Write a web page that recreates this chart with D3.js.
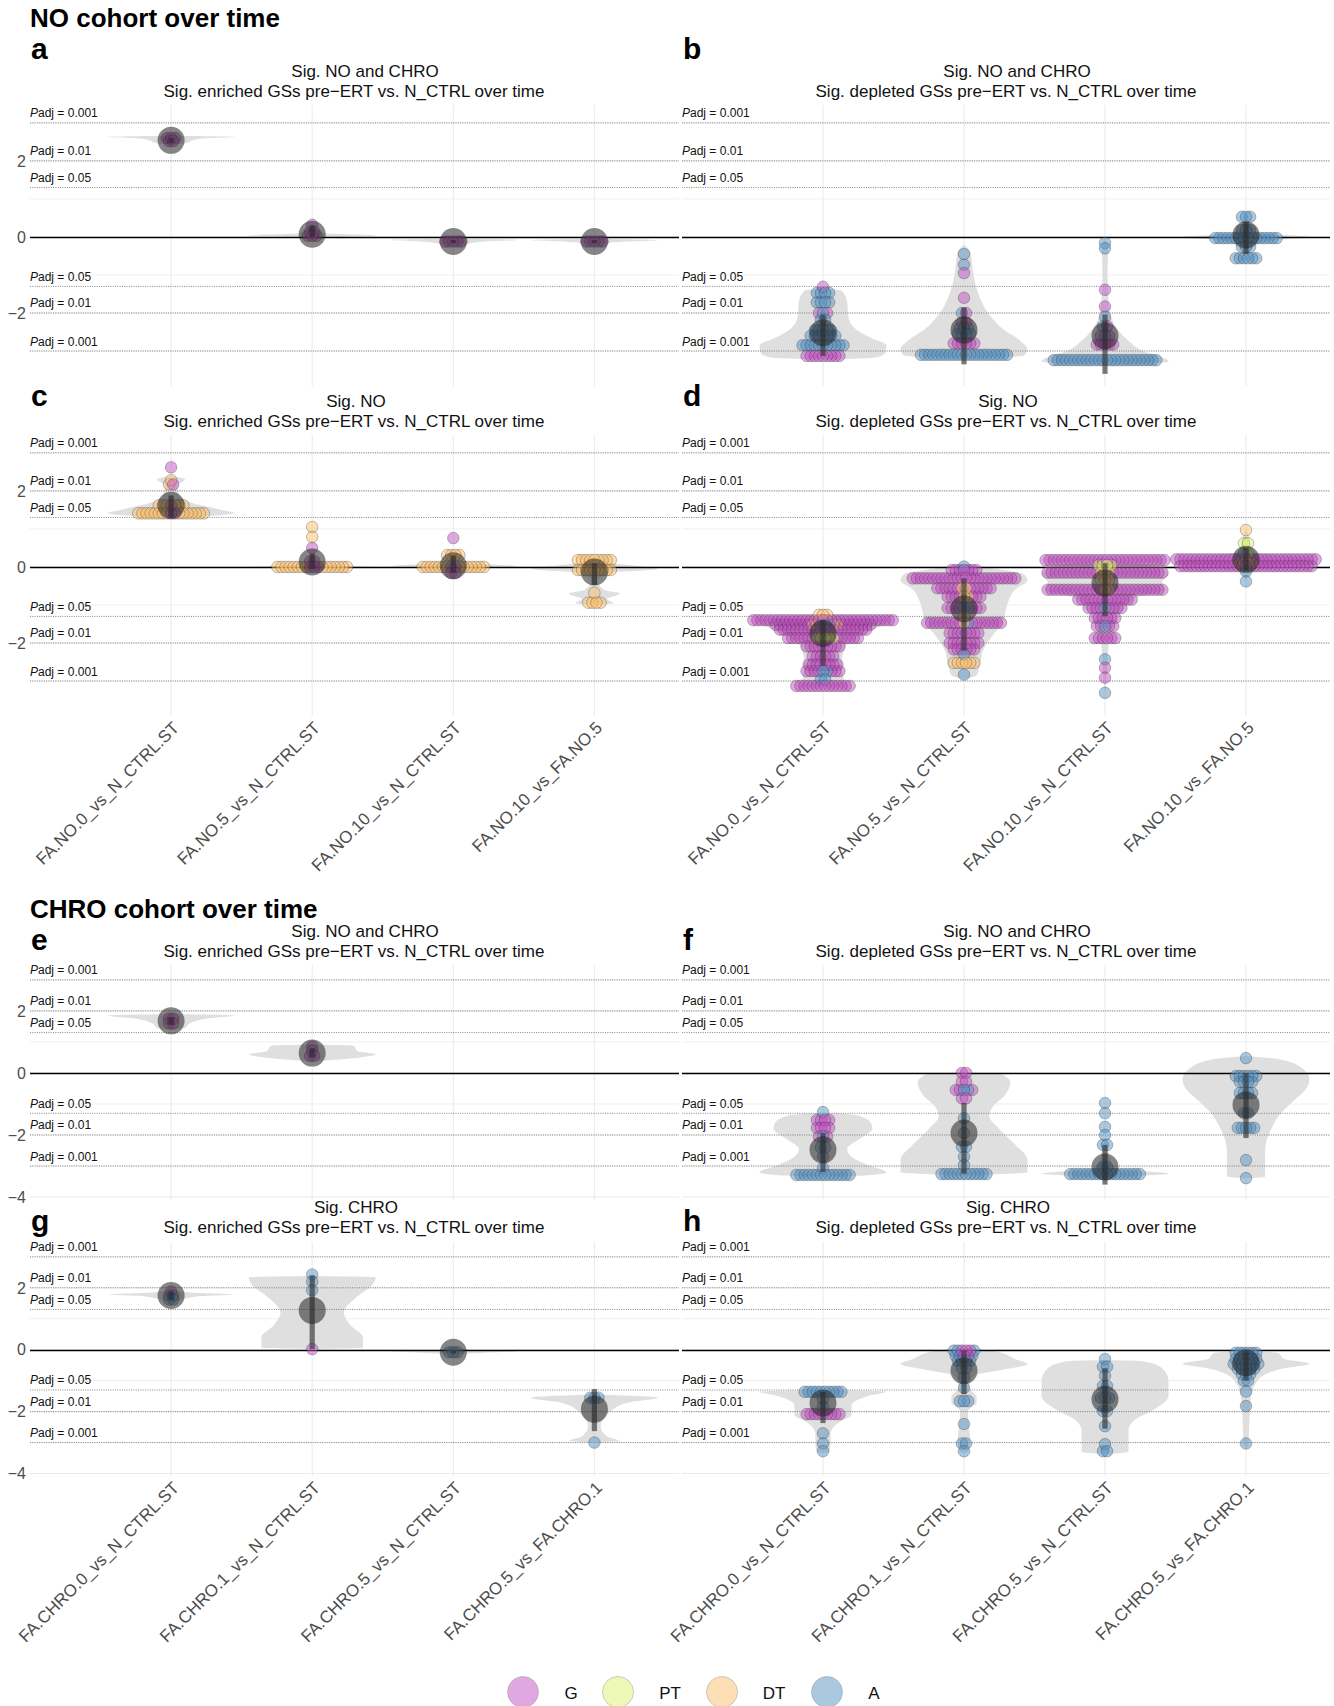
<!DOCTYPE html>
<html>
<head>
<meta charset="utf-8">
<script src="https://cdn.jsdelivr.net/npm/d3@7"></script>
<style>
  body { margin: 0; background: #fff; }
  svg { display: block; }
  text { font-family: "Liberation Sans", Arial, Helvetica, sans-serif; }
</style>
</head>
<body>
<svg id="chart" width="1334" height="1706"></svg>
<script>
// ---- categories, groups, reference lines ----
const NO_CATS = ["FA.NO.0_vs_N_CTRL.ST", "FA.NO.5_vs_N_CTRL.ST", "FA.NO.10_vs_N_CTRL.ST", "FA.NO.10_vs_FA.NO.5"];
const CHRO_CATS = ["FA.CHRO.0_vs_N_CTRL.ST", "FA.CHRO.1_vs_N_CTRL.ST", "FA.CHRO.5_vs_N_CTRL.ST", "FA.CHRO.5_vs_FA.CHRO.1"];
const GROUPS = ["G", "PT", "DT", "A"];
const GROUP_COLORS = ["#c151c1", "#ddf371", "#fbbf6d", "#5591c1"];
const PADJ_LINES = [[3, "0.001"], [2, "0.01"], [1.301, "0.05"], [-1.301, "0.05"], [-2, "0.01"], [-3, "0.001"]];
const Y_TICKS_TOP = [-2, 0, 2];
const Y_TICKS_BOTTOM = [-4, -2, 0, 2];

// ---- gene-set points: [category index, signed -log10 padj, nG, nPT, nDT, nA] ----
const dotsA = [
  [0, 2.6, 3, 0, 0, 0], [0, 2.52, 2, 0, 0, 0],
  [1, 0.32, 1, 0, 0, 0], [1, 0.12, 2, 0, 0, 0], [1, 0.03, 3, 0, 0, 0],
  [2, -0.12, 5, 0, 0, 0],
  [3, -0.12, 5, 0, 0, 0]
];
const dotsB = [
  [0, -1.31, 1, 0, 0, 0], [0, -1.47, 0, 0, 0, 4], [0, -1.72, 0, 0, 0, 4], [0, -2.0, 2, 0, 0, 1], [0, -2.17, 0, 0, 0, 2],
  [0, -2.45, 0, 0, 0, 5], [0, -2.6, 0, 0, 0, 7], [0, -2.85, 0, 0, 0, 11], [0, -3.13, 9, 0, 0, 0],
  [1, -0.45, 0, 0, 0, 1], [1, -0.73, 0, 0, 0, 1], [1, -0.95, 1, 0, 0, 0], [1, -1.6, 1, 0, 0, 0], [1, -2.0, 1, 0, 0, 1],
  [1, -2.25, 2, 0, 0, 0], [1, -2.4, 0, 0, 0, 3], [1, -2.55, 0, 0, 0, 4], [1, -2.8, 6, 0, 0, 0], [1, -3.1, 0, 0, 0, 22],
  [2, -0.16, 0, 0, 0, 1], [2, -0.3, 0, 0, 0, 1], [2, -1.39, 1, 0, 0, 0], [2, -1.83, 1, 0, 0, 0], [2, -2.1, 0, 0, 0, 1],
  [2, -2.35, 1, 0, 0, 1], [2, -2.6, 2, 0, 0, 1], [2, -2.83, 5, 0, 0, 0], [2, -3.24, 0, 0, 0, 26],
  [3, 0.53, 0, 0, 0, 3], [3, 0.18, 0, 0, 0, 3], [3, -0.03, 0, 0, 0, 16], [3, -0.26, 0, 0, 0, 3], [3, -0.56, 0, 0, 0, 6]
];
const dotsC = [
  [0, 2.62, 1, 0, 0, 0], [0, 2.28, 0, 0, 1, 0], [0, 2.17, 1, 0, 1, 0], [0, 1.62, 1, 0, 6, 0], [0, 1.41, 2, 0, 15, 0],
  [1, 1.05, 0, 0, 1, 0], [1, 0.79, 0, 0, 1, 0], [1, 0.5, 1, 0, 0, 0], [1, 0.15, 2, 0, 0, 0], [1, 0.0, 3, 0, 15, 0],
  [2, 0.76, 1, 0, 0, 0], [2, 0.31, 0, 0, 4, 0], [2, 0.0, 2, 0, 14, 0], [2, -0.16, 2, 0, 0, 0],
  [3, 0.18, 0, 0, 9, 0], [3, -0.08, 0, 0, 9, 0], [3, -0.68, 0, 0, 1, 0], [3, -0.94, 0, 0, 4, 0]
];
const dotsD = [
  [0, -1.26, 0, 0, 3, 0], [0, -1.4, 35, 0, 0, 0], [0, -1.52, 17, 0, 4, 3], [0, -1.65, 22, 0, 0, 0],
  [0, -1.87, 13, 5, 0, 0], [0, -2.09, 9, 0, 0, 0], [0, -2.35, 6, 0, 0, 0], [0, -2.57, 8, 0, 0, 0],
  [0, -2.74, 7, 0, 0, 2], [0, -2.96, 0, 0, 0, 2], [0, -3.13, 14, 0, 0, 0],
  [1, 0.01, 0, 0, 0, 1], [1, -0.08, 7, 0, 0, 0], [1, -0.3, 26, 0, 0, 0], [1, -0.56, 12, 0, 2, 0],
  [1, -0.78, 7, 0, 2, 0], [1, -1.08, 7, 0, 0, 2], [1, -1.3, 0, 0, 1, 0], [1, -1.47, 17, 0, 1, 1],
  [1, -1.74, 8, 0, 0, 0], [1, -2.0, 8, 0, 0, 0], [1, -2.17, 6, 0, 0, 0], [1, -2.3, 0, 0, 0, 1],
  [1, -2.52, 0, 0, 6, 0], [1, -2.83, 0, 0, 0, 1],
  [2, 0.18, 30, 0, 0, 0], [2, 0.05, 0, 4, 0, 0], [2, -0.15, 26, 0, 3, 0], [2, -0.34, 0, 0, 3, 0],
  [2, -0.6, 27, 0, 2, 0], [2, -0.86, 14, 0, 0, 0], [2, -1.08, 8, 0, 0, 1], [2, -1.34, 6, 0, 0, 0],
  [2, -1.56, 4, 0, 0, 1], [2, -1.87, 6, 0, 0, 0], [2, -2.43, 0, 0, 0, 1], [2, -2.65, 1, 0, 0, 0],
  [2, -2.91, 1, 0, 0, 0], [2, -3.31, 0, 0, 0, 1],
  [3, 0.97, 0, 0, 1, 0], [3, 0.62, 0, 2, 0, 0], [3, 0.36, 0, 1, 0, 1], [3, 0.2, 35, 0, 0, 0],
  [3, 0.1, 0, 0, 4, 0], [3, 0.02, 33, 0, 0, 0], [3, -0.12, 0, 0, 0, 1], [3, -0.38, 0, 0, 0, 1]
];
const dotsE = [
  [0, 1.75, 2, 0, 0, 0], [0, 1.6, 2, 0, 0, 0],
  [1, 0.85, 1, 0, 0, 0], [1, 0.72, 1, 0, 0, 0], [1, 0.55, 2, 0, 0, 0]
];
const dotsF = [
  [0, -1.26, 0, 0, 0, 1], [0, -1.52, 4, 0, 0, 0], [0, -1.77, 4, 0, 0, 0], [0, -2.05, 2, 0, 0, 1],
  [0, -2.4, 0, 0, 0, 2], [0, -2.7, 0, 0, 0, 1], [0, -3.06, 0, 0, 0, 1], [0, -3.29, 0, 0, 0, 14],
  [1, 0.0, 2, 0, 0, 0], [1, -0.28, 2, 0, 0, 0], [1, -0.55, 3, 0, 0, 2], [1, -0.82, 2, 0, 0, 0],
  [1, -1.46, 0, 0, 0, 1], [1, -1.94, 0, 0, 0, 1], [1, -2.38, 0, 0, 0, 2], [1, -2.7, 0, 0, 0, 1],
  [1, -2.97, 0, 0, 0, 1], [1, -3.26, 0, 0, 0, 12],
  [2, -0.97, 0, 0, 0, 1], [2, -1.3, 0, 0, 0, 1], [2, -1.74, 0, 0, 0, 1], [2, -2.0, 0, 0, 0, 1],
  [2, -2.32, 0, 0, 0, 2], [2, -3.03, 0, 0, 0, 2], [2, -3.26, 0, 0, 0, 18],
  [3, 0.48, 0, 0, 0, 1], [3, -0.1, 0, 0, 0, 6], [3, -0.29, 0, 0, 0, 4], [3, -0.65, 0, 0, 0, 4],
  [3, -1.3, 0, 0, 0, 2], [3, -1.77, 0, 0, 0, 5], [3, -2.81, 0, 0, 0, 1], [3, -3.39, 0, 0, 0, 1]
];
const dotsG = [
  [0, 1.88, 1, 0, 0, 0], [0, 1.75, 0, 0, 0, 2], [0, 1.62, 0, 0, 0, 2],
  [1, 2.43, 0, 0, 0, 1], [1, 2.2, 0, 0, 0, 1], [1, 1.92, 0, 0, 0, 1], [1, 0.02, 1, 0, 0, 0],
  [2, -0.08, 0, 0, 0, 3],
  [3, -1.55, 0, 0, 0, 3], [3, -3.0, 0, 0, 0, 1]
];
const dotsH = [
  [0, -1.36, 0, 0, 0, 10], [0, -1.6, 0, 0, 0, 1], [0, -1.85, 0, 0, 0, 1], [0, -2.08, 9, 0, 0, 0],
  [0, -2.7, 0, 0, 0, 1], [0, -3.03, 0, 0, 0, 1], [0, -3.28, 0, 0, 0, 1],
  [1, -0.03, 3, 0, 0, 3], [1, -0.2, 2, 0, 0, 3], [1, -0.36, 0, 0, 0, 4], [1, -0.6, 0, 0, 0, 2],
  [1, -0.9, 0, 0, 0, 1], [1, -1.23, 0, 0, 0, 1], [1, -1.66, 0, 0, 0, 3], [1, -2.4, 0, 0, 0, 1],
  [1, -3.03, 0, 0, 0, 2], [1, -3.28, 0, 0, 0, 1],
  [2, -0.3, 0, 0, 0, 1], [2, -0.55, 0, 0, 0, 2], [2, -0.84, 0, 0, 0, 1], [2, -1.17, 0, 0, 0, 2],
  [2, -1.56, 0, 0, 0, 3], [2, -1.98, 0, 0, 0, 2], [2, -2.47, 0, 0, 0, 1], [2, -3.05, 0, 0, 0, 1],
  [2, -3.28, 0, 0, 0, 2],
  [3, -0.1, 0, 0, 0, 6], [3, -0.3, 0, 0, 0, 6], [3, -0.46, 0, 0, 0, 7], [3, -0.62, 0, 0, 0, 5],
  [3, -0.8, 0, 0, 0, 3], [3, -1.0, 0, 0, 0, 2], [3, -1.35, 0, 0, 0, 1], [3, -1.82, 0, 0, 0, 1],
  [3, -3.03, 0, 0, 0, 1]
];

// ---- violin density outlines: [category index, [[value, relative half-width], ...]] ----
const violinA = [
  [0, [[2.66, 0], [2.63, 1], [2.6, 0.6], [2.55, 0.35], [2.48, 0.26], [2.41, 0]]],
  [1, [[0.35, 0], [0.25, 0.1], [0.1, 0.2], [0.04, 1], [0.0, 0.4], [-0.05, 0]]],
  [2, [[-0.05, 0], [-0.08, 1], [-0.12, 0.5], [-0.18, 0.2], [-0.22, 0]]],
  [3, [[-0.05, 0], [-0.09, 1], [-0.13, 0.4], [-0.2, 0]]]
];
const violinB = [
  [0, [[-1.35, 0], [-1.42, 0.3], [-1.7, 0.38], [-2.1, 0.4], [-2.4, 0.5], [-2.65, 0.75], [-2.85, 1], [-3.05, 0.98], [-3.18, 0.8], [-3.23, 0]]],
  [1, [[-0.2, 0], [-0.4, 0.1], [-1.0, 0.15], [-1.6, 0.25], [-2.0, 0.38], [-2.4, 0.6], [-2.75, 0.9], [-2.95, 1], [-3.12, 0.95], [-3.2, 0]]],
  [2, [[-0.08, 0], [-0.2, 0.05], [-1.0, 0.04], [-1.8, 0.06], [-2.3, 0.15], [-2.7, 0.35], [-3.0, 0.6], [-3.2, 0.95], [-3.28, 1], [-3.36, 0]]],
  [3, [[0.6, 0], [0.4, 0.05], [0.1, 0.2], [0.0, 1], [-0.1, 0.3], [-0.4, 0.05], [-0.6, 0]]]
];
const violinC = [
  [0, [[2.4, 0], [2.3, 0.22], [2.15, 0.1], [1.9, 0.12], [1.7, 0.3], [1.5, 0.8], [1.42, 1], [1.32, 0.5], [1.25, 0]]],
  [1, [[0.12, 0], [0.05, 0.1], [0.0, 1], [-0.05, 0.2], [-0.1, 0]]],
  [2, [[0.1, 0], [0.02, 1], [-0.05, 0.3], [-0.12, 0]]],
  [3, [[0.25, 0], [0.1, 0.3], [-0.05, 1], [-0.15, 0.3], [-0.35, 0.05], [-0.6, 0.15], [-0.7, 0.4], [-0.85, 0.2], [-0.95, 0.3], [-1.0, 0]]]
];
const violinD = [
  [0, [[-1.25, 0], [-1.3, 0.6], [-1.42, 1], [-1.6, 0.85], [-1.85, 0.55], [-2.1, 0.35], [-2.5, 0.3], [-2.9, 0.32], [-3.1, 0.35], [-3.18, 0]]],
  [1, [[0.05, 0], [-0.05, 0.5], [-0.2, 0.95], [-0.35, 1], [-0.6, 0.8], [-0.9, 0.7], [-1.2, 0.65], [-1.5, 0.6], [-1.8, 0.45], [-2.2, 0.3], [-2.6, 0.25], [-2.85, 0.2], [-2.95, 0]]],
  [2, [[0.25, 0], [0.15, 0.3], [0.0, 0.85], [-0.2, 1], [-0.4, 0.9], [-0.6, 0.95], [-0.8, 0.5], [-1.1, 0.3], [-1.5, 0.15], [-2.0, 0.06], [-2.8, 0.03], [-3.35, 0]]],
  [3, [[1.0, 0], [0.8, 0.05], [0.4, 0.1], [0.2, 1], [0.0, 0.4], [-0.2, 0.05], [-0.4, 0]]]
];
const violinE = [
  [0, [[1.9, 0], [1.85, 1], [1.75, 0.55], [1.6, 0.3], [1.45, 0.22], [1.38, 0]]],
  [1, [[0.92, 0], [0.88, 0.65], [0.7, 0.72], [0.6, 1], [0.5, 0.75], [0.37, 0]]]
];
const violinF = [
  [0, [[-1.28, 0], [-1.35, 0.5], [-1.6, 0.75], [-1.8, 0.78], [-2.1, 0.6], [-2.45, 0.38], [-2.7, 0.45], [-3.0, 0.75], [-3.2, 1], [-3.3, 0.7], [-3.35, 0]]],
  [1, [[0.02, 0], [-0.05, 0.6], [-0.3, 0.73], [-0.7, 0.65], [-1.1, 0.45], [-1.4, 0.4], [-1.8, 0.55], [-2.3, 0.8], [-2.8, 1], [-3.2, 1], [-3.3, 0]]],
  [2, [[-2.2, 0], [-2.4, 0.04], [-2.8, 0.08], [-3.1, 0.2], [-3.25, 1], [-3.32, 0.5], [-3.38, 0]]],
  [3, [[0.55, 0], [0.45, 0.5], [0.2, 0.85], [-0.2, 1], [-0.5, 0.95], [-0.9, 0.75], [-1.3, 0.55], [-1.8, 0.4], [-2.5, 0.3], [-3.0, 0.3], [-3.35, 0.3], [-3.4, 0]]]
];
const violinG = [
  [0, [[1.95, 0], [1.85, 0.3], [1.78, 1], [1.72, 0.4], [1.6, 0.15], [1.5, 0]]],
  [1, [[2.38, 0], [2.34, 1], [2.1, 0.95], [1.7, 0.7], [1.2, 0.5], [0.8, 0.6], [0.4, 0.8], [0.06, 0.8], [0.02, 0]]],
  [2, [[-0.02, 0], [-0.05, 1], [-0.1, 0.5], [-0.15, 0]]],
  [3, [[-1.45, 0], [-1.55, 1], [-1.7, 0.55], [-2.0, 0.25], [-2.5, 0.1], [-2.8, 0.2], [-2.95, 0.4], [-3.0, 0]]]
];
const violinH = [
  [0, [[-1.3, 0], [-1.35, 1], [-1.5, 0.7], [-1.8, 0.45], [-2.1, 0.45], [-2.35, 0.25], [-2.7, 0.12], [-3.0, 0.12], [-3.3, 0.1], [-3.35, 0]]],
  [1, [[0.05, 0], [-0.05, 0.5], [-0.3, 0.8], [-0.46, 1], [-0.65, 0.6], [-0.85, 0.15], [-1.2, 0.08], [-1.55, 0.2], [-1.7, 0.2], [-2.0, 0.06], [-3.0, 0.1], [-3.3, 0.06], [-3.35, 0]]],
  [2, [[-0.33, 0], [-0.37, 0.6], [-0.6, 0.9], [-1.0, 1], [-1.5, 1], [-1.9, 0.8], [-2.3, 0.45], [-2.6, 0.37], [-3.3, 0.37], [-3.38, 0]]],
  [3, [[-0.03, 0], [-0.1, 0.5], [-0.3, 0.6], [-0.45, 1], [-0.6, 0.6], [-0.8, 0.3], [-1.1, 0.15], [-1.5, 0.08], [-2.5, 0.05], [-3.1, 0.04], [-3.15, 0]]]
];

// ---- summaries: [category index, mean, range low, range high] ----
const summaryA = [[0, 2.54, 2.47, 2.6], [1, 0.07, 0.0, 0.3], [2, -0.12, -0.16, -0.08], [3, -0.12, -0.16, -0.08]];
const summaryB = [[0, -2.52, -3.13, -2.05], [1, -2.45, -3.35, -1.86], [2, -2.6, -3.6, -2.04], [3, 0.05, -0.45, 0.4]];
const summaryC = [[0, 1.62, 1.3, 1.88], [1, 0.13, -0.05, 0.35], [2, 0.03, -0.15, 0.3], [3, -0.13, -0.47, 0.1]];
const summaryD = [[0, -1.75, -2.6, -1.4], [1, -1.1, -2.2, -0.3], [2, -0.42, -1.3, 0.1], [3, 0.2, -0.1, 0.5]];
const summaryE = [[0, 1.68, 1.55, 1.8], [1, 0.64, 0.5, 0.8]];
const summaryF = [[0, -2.48, -3.19, -1.94], [1, -1.94, -3.25, -0.97], [2, -3.03, -3.6, -2.32], [3, -1.03, -2.1, 0.0]];
const summaryG = [[0, 1.75, 1.6, 1.88], [1, 1.27, 0.02, 2.4], [2, -0.08, -0.12, -0.04], [3, -1.92, -2.63, -1.27]];
const summaryH = [[0, -1.72, -2.37, -1.36], [1, -0.68, -1.44, -0.03], [2, -1.6, -2.55, -0.6], [3, -0.42, -1.0, -0.05]];

// ---- titles ----
const ENRICHED = "Sig. enriched GSs pre\u2212ERT vs. N_CTRL over time";
const DEPLETED = "Sig. depleted GSs pre\u2212ERT vs. N_CTRL over time";

// ---- layout ----
const COLS = [
  { left: 30, right: 679, first: 171.1, last: 594.4, center: 354 },
  { left: 682, right: 1330, first: 823, last: 1246, center: 1006 }
];
const ROWS = [
  { top: 105, bottom: 386, dom: [-3.92, 3.47], ticks: Y_TICKS_TOP, tagY: 59, t1: 77, t2: 97 },
  { top: 435, bottom: 716, dom: [-3.92, 3.47], ticks: Y_TICKS_TOP, tagY: 406, t1: 407, t2: 427 },
  { top: 965, bottom: 1199.5, dom: [-4.08, 3.48], ticks: Y_TICKS_BOTTOM, tagY: 950, t1: 937, t2: 957 },
  { top: 1242, bottom: 1476, dom: [-4.08, 3.48], ticks: Y_TICKS_BOTTOM, tagY: 1231, t1: 1213, t2: 1233 }
];
const PANELS = [
  { tag: "a", row: 0, col: 0, cats: NO_CATS, head: "Sig. NO and CHRO", sub: ENRICHED, shift: 11, dots: dotsA, violins: violinA, summary: summaryA },
  { tag: "b", row: 0, col: 1, cats: NO_CATS, head: "Sig. NO and CHRO", sub: DEPLETED, shift: 11, dots: dotsB, violins: violinB, summary: summaryB },
  { tag: "c", row: 1, col: 0, cats: NO_CATS, head: "Sig. NO", sub: ENRICHED, shift: 2, dots: dotsC, violins: violinC, summary: summaryC, axis: true },
  { tag: "d", row: 1, col: 1, cats: NO_CATS, head: "Sig. NO", sub: DEPLETED, shift: 2, dots: dotsD, violins: violinD, summary: summaryD, axis: true },
  { tag: "e", row: 2, col: 0, cats: CHRO_CATS, head: "Sig. NO and CHRO", sub: ENRICHED, shift: 11, dots: dotsE, violins: violinE, summary: summaryE },
  { tag: "f", row: 2, col: 1, cats: CHRO_CATS, head: "Sig. NO and CHRO", sub: DEPLETED, shift: 11, dots: dotsF, violins: violinF, summary: summaryF },
  { tag: "g", row: 3, col: 0, cats: CHRO_CATS, head: "Sig. CHRO", sub: ENRICHED, shift: 2, dots: dotsG, violins: violinG, summary: summaryG, axis: true },
  { tag: "h", row: 3, col: 1, cats: CHRO_CATS, head: "Sig. CHRO", sub: DEPLETED, shift: 2, dots: dotsH, violins: violinH, summary: summaryH, axis: true }
];

const DOT_R = 5.8;
const DOT_STEP = 4.1;

const svg = d3.select("#chart");

// section headings
svg.append("text").attr("x", 30).attr("y", 27).attr("font-size", 26).attr("font-weight", "bold").text("NO cohort over time");
svg.append("text").attr("x", 30).attr("y", 918).attr("font-size", 26).attr("font-weight", "bold").text("CHRO cohort over time");

// expand a dot row into individual points laid out centre-outwards
function rowPoints(row) {
  const [ci, v] = row;
  const parts = GROUPS.map((g, i) => ({ gi: i, n: row[2 + i] })).filter(d => d.n > 0);
  parts.sort((a, b) => a.n - b.n || a.gi - b.gi);
  const seq = [];
  parts.forEach(p => { for (let k = 0; k < p.n; k++) seq.push(p.gi); });
  const n = seq.length;
  return seq.map((gi, k) => {
    // centre-out order: 0, +1, -1, +2, -2 ... (shifted by half a step for even counts)
    let off;
    if (n % 2 === 1) off = k === 0 ? 0 : (k % 2 ? 1 : -1) * Math.ceil(k / 2);
    else off = (k % 2 ? -1 : 1) * (Math.floor(k / 2) + 0.5);
    return { ci, v, gi, off, order: k };
  });
}

function drawPanel(p) {
  const col = COLS[p.col], row = ROWS[p.row];
  const g = svg.append("g").attr("class", "panel-" + p.tag);
  const x = d3.scalePoint().domain(p.cats).range([col.first, col.last]);
  const y = d3.scaleLinear().domain(row.dom).range([row.bottom, row.top]);
  const halfW = 0.45 * x.step();

  // grid
  const gridVals = d3.range(Math.ceil(row.dom[0]), Math.floor(row.dom[1]) + 1);
  g.append("g").selectAll("line").data(gridVals).join("line")
    .attr("x1", col.left).attr("x2", col.right)
    .attr("y1", d => y(d)).attr("y2", d => y(d))
    .attr("stroke", "#ebebeb").attr("stroke-width", d => d % 2 === 0 ? 1.1 : 0.8);
  g.append("g").selectAll("line").data(p.cats).join("line")
    .attr("x1", d => x(d)).attr("x2", d => x(d))
    .attr("y1", row.top).attr("y2", row.bottom)
    .attr("stroke", "#ebebeb").attr("stroke-width", 1.1);

  // violins
  const area = d3.area()
    .y(d => y(d[0]))
    .curve(d3.curveMonotoneY);
  g.append("g").selectAll("path").data(p.violins).join("path")
    .attr("d", d => {
      const cx = x(p.cats[d[0]]);
      return area.x0(e => cx - e[1] * halfW).x1(e => cx + e[1] * halfW)(d[1]);
    })
    .attr("fill", "#d9d9d9").attr("fill-opacity", 0.85);

  // adjusted p-value reference lines
  g.append("g").selectAll("line").data(PADJ_LINES).join("line")
    .attr("x1", col.left).attr("x2", col.right)
    .attr("y1", d => y(d[0])).attr("y2", d => y(d[0]))
    .attr("stroke", "#666").attr("stroke-width", 0.8).attr("stroke-dasharray", "1,1.3");
  const y0 = Math.round(y(0)) + 0.5;
  g.append("line")
    .attr("x1", col.left).attr("x2", col.right)
    .attr("y1", y0).attr("y2", y0)
    .attr("stroke", "#000").attr("stroke-width", 1.3);

  // gene-set points
  const pts = p.dots.flatMap(r => rowPoints(r));
  pts.sort((a, b) => b.order - a.order);
  g.append("g").selectAll("circle").data(pts).join("circle")
    .attr("cx", d => x(p.cats[d.ci]) + d.off * DOT_STEP)
    .attr("cy", d => y(d.v))
    .attr("r", DOT_R)
    .attr("fill", d => GROUP_COLORS[d.gi]).attr("fill-opacity", 0.5)
    .attr("stroke", "#222").attr("stroke-opacity", 0.4).attr("stroke-width", 0.7);

  // summary range and mean
  g.append("g").selectAll("rect").data(p.summary).join("rect")
    .attr("x", d => x(p.cats[d[0]]) - 2.6).attr("width", 5.2)
    .attr("y", d => y(d[3])).attr("height", d => y(d[2]) - y(d[3]))
    .attr("fill", "#333").attr("fill-opacity", 0.65);
  g.append("g").selectAll("circle").data(p.summary).join("circle")
    .attr("cx", d => x(p.cats[d[0]])).attr("cy", d => y(d[1]))
    .attr("r", 13.5)
    .attr("fill", "#222").attr("fill-opacity", 0.55);

  // reference line labels
  const lab = g.append("g").selectAll("text").data(PADJ_LINES).join("text")
    .attr("x", col.left).attr("y", d => y(d[0]) - 5.5)
    .attr("font-size", 12).attr("fill", "#111");
  lab.append("tspan").attr("font-style", "italic").text("P");
  lab.append("tspan").text(d => "adj = " + d[1]);

  // y axis labels on the left column
  if (p.col === 0) {
    g.append("g").selectAll("text").data(row.ticks).join("text")
      .attr("x", 26).attr("y", d => y(d)).attr("dy", "0.36em")
      .attr("text-anchor", "end").attr("font-size", 16).attr("fill", "#4d4d4d")
      .text(d => d < 0 ? "\u2212" + Math.abs(d) : d);
  }

  // panel titles and tag
  g.append("text").attr("x", col.center + p.shift).attr("y", row.t1)
    .attr("text-anchor", "middle").attr("font-size", 17).attr("fill", "#111").text(p.head);
  g.append("text").attr("x", col.center).attr("y", row.t2)
    .attr("text-anchor", "middle").attr("font-size", 17).attr("fill", "#111").text(p.sub);
  g.append("text").attr("x", col.left + 1).attr("y", row.tagY)
    .attr("font-size", 30).attr("font-weight", "bold").text(p.tag);

  // category labels
  if (p.axis) {
    g.append("g").selectAll("text").data(p.cats).join("text")
      .attr("transform", d => `translate(${x(d)},${row.bottom + 4}) rotate(-45)`)
      .attr("dy", "0.74em")
      .attr("text-anchor", "end").attr("font-size", 17).attr("fill", "#4d4d4d")
      .text(d => d);
  }
}

PANELS.forEach(drawPanel);

// legend
const LEGEND_X = [523, 618, 722, 827];
const LEGEND_LABEL_X = [571, 670, 774, 874];
const leg = svg.append("g");
leg.selectAll("circle").data(GROUPS).join("circle")
  .attr("cx", (d, i) => LEGEND_X[i]).attr("cy", 1692).attr("r", 15.5)
  .attr("fill", (d, i) => GROUP_COLORS[i]).attr("fill-opacity", 0.5)
  .attr("stroke", "#999").attr("stroke-opacity", 0.6).attr("stroke-width", 0.8);
leg.selectAll("text").data(GROUPS).join("text")
  .attr("x", (d, i) => LEGEND_LABEL_X[i]).attr("y", 1698.5)
  .attr("text-anchor", "middle").attr("font-size", 17).attr("fill", "#111")
  .text(d => d);
</script>
</body>
</html>
